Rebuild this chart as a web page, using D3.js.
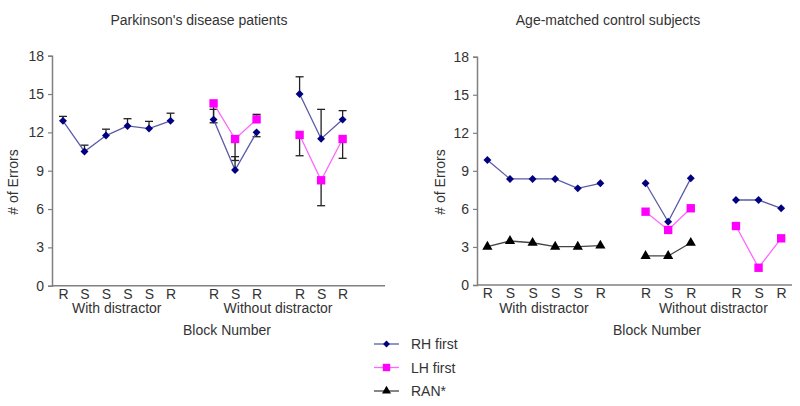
<!DOCTYPE html>
<html>
<head>
<meta charset="utf-8">
<script src="https://cdn.jsdelivr.net/npm/d3@7"></script>
<style>
  body { margin: 0; background: #fff; }
  text { font-family: "Liberation Sans", Arial, sans-serif; fill: #333; }
</style>
</head>
<body>
<div id="graph-container"></div>
<script>
const width = 800
const height = 406

// block slots on the x axis (gaps between the three sub-blocks)
const slots = [0, 1, 2, 3, 4, 5, 7, 8, 9, 11, 12, 13]
const blockLabels = ["R", "S", "S", "S", "S", "R", "R", "S", "R", "R", "S", "R"]
const blockGroup = [0, 0, 0, 0, 0, 0, 1, 1, 1, 2, 2, 2]
const yTicks = [0, 3, 6, 9, 12, 15, 18]

// Parkinson's disease patients
const pdRH = [12.9, 10.5, 11.75, 12.5, 12.3, 12.9, 13.0, 9.05, 12.0, 15.0, 11.5, 13.0]
const pdRHErr = [13.25, 11.0, 12.25, 13.07, 12.86, 13.5, 13.8, 10.1, 11.66, 16.35, 13.8, 13.7]
const pdLH = [null, null, null, null, null, null, 14.27, 11.48, 13.02, 11.8, 8.25, 11.48]
const pdLHErr = [null, null, null, null, null, null, 12.75, 9.8, 13.41, 10.17, 6.26, 9.97]

// Age-matched control subjects
const ctRH = [9.85, 8.36, 8.36, 8.36, 7.62, 8.02, 8.02, 4.99, 8.41, 6.7, 6.7, 6.05]
const ctLH = [null, null, null, null, null, null, 5.78, 4.34, 6.05, 4.65, 1.36, 3.68]
const ctRAN = [3.02, 3.47, 3.33, 3.02, 3.02, 3.1, 2.29, 2.29, 3.33, null, null, null]

const colors = {
  rhLine: "#5a5aa8", rhMark: "#000080",
  lhLine: "#ff66ff", lhMark: "#ff00ff",
  ranLine: "#444", ranMark: "#000"
}

const fontSize = "14px"

const svg = d3.create("svg")
    .attr("width", width)
    .attr("height", height)

d3.select("#graph-container").append(() => svg.node())

const panels = [
  {
    title: "Parkinson's disease patients", titleX: 199, blockX: 227,
    x: d3.scaleLinear().domain([-0.51, 14.97]).range([52, 385]),
    y: d3.scaleLinear().domain([0, 18]).range([285.7, 55.7]),
    labelX: 13,
    series: [
      {values: pdRH, err: pdRHErr, line: colors.rhLine, mark: colors.rhMark, shape: d3.symbolDiamond2, size: 40},
      {values: pdLH, err: pdLHErr, line: colors.lhLine, mark: colors.lhMark, shape: d3.symbolSquare, size: 70}
    ]
  },
  {
    title: "Age-matched control subjects", titleX: 608, blockX: 657,
    x: d3.scaleLinear().domain([-0.46, 13.48]).range([477, 792]),
    y: d3.scaleLinear().domain([0, 18]).range([285, 56.7]),
    labelX: 440,
    series: [
      {values: ctRH, line: colors.rhLine, mark: colors.rhMark, shape: d3.symbolDiamond2, size: 40},
      {values: ctLH, line: colors.lhLine, mark: colors.lhMark, shape: d3.symbolSquare, size: 70},
      {values: ctRAN, line: colors.ranLine, mark: colors.ranMark, shape: d3.symbolTriangle, size: 45}
    ]
  }
]

panels.forEach(p => {
  const [x0, x1] = p.x.range()
  const yBase = p.y(0)

  svg.append("text")
      .attr("x", p.titleX)
      .attr("y", 25)
      .attr("font-size", fontSize)
      .style("text-anchor", "middle")
      .text(p.title)

  // y axis
  const yAxis = svg.append("g")
      .attr("transform", `translate(${x0},0)`)
      .call(d3.axisLeft(p.y).tickValues(yTicks).tickSize(4).tickPadding(4))
  yAxis.select(".domain").attr("stroke", "#808080").attr("stroke-width", 1.5)
  yAxis.selectAll(".tick line").attr("stroke", "#808080").attr("stroke-width", 1.2)
  yAxis.selectAll(".tick text").attr("font-size", fontSize).attr("fill", "#333")
      .attr("font-family", "Liberation Sans, Arial, sans-serif")

  // x axis
  const xAxis = svg.append("g")
      .attr("transform", `translate(0,${yBase})`)
      .call(d3.axisBottom(p.x).tickValues(slots).tickSize(0).tickPadding(3)
        .tickFormat((d, i) => blockLabels[i]))
  xAxis.select(".domain").attr("stroke", "#808080").attr("stroke-width", 1.5)
      .attr("d", `M${x0},0H${x1}`)
  xAxis.selectAll(".tick text").attr("font-size", fontSize).attr("fill", "#333")
      .attr("font-family", "Liberation Sans, Arial, sans-serif")

  const mid0 = (p.x(slots[0]) + p.x(slots[5])) / 2
  const mid1 = (p.x(slots[6]) + p.x(slots[11])) / 2
  svg.append("text").attr("x", mid0).attr("y", 313).attr("font-size", fontSize)
      .style("text-anchor", "middle").text("With distractor")
  svg.append("text").attr("x", mid1).attr("y", 313).attr("font-size", fontSize)
      .style("text-anchor", "middle").text("Without distractor")

  svg.append("text")
      .attr("x", p.blockX)
      .attr("y", 335)
      .attr("font-size", fontSize)
      .style("text-anchor", "middle")
      .text("Block Number")

  svg.append("text")
      .attr("transform", `translate(${p.labelX + 5},182) rotate(-90)`)
      .attr("font-size", fontSize)
      .style("text-anchor", "middle")
      .text("# of Errors")

  const g = svg.append("g")

  // error bars
  p.series.filter(s => s.err).forEach(s => {
    s.err.forEach((e, i) => {
      if (e == null || s.values[i] == null) return
      const cx = p.x(slots[i])
      g.append("line")
          .attr("x1", cx).attr("x2", cx)
          .attr("y1", p.y(s.values[i])).attr("y2", p.y(e))
          .attr("stroke", "#222").attr("stroke-width", 1.3)
      g.append("line")
          .attr("x1", cx - 4).attr("x2", cx + 4)
          .attr("y1", p.y(e)).attr("y2", p.y(e))
          .attr("stroke", "#222").attr("stroke-width", 1.3)
    })
  })

  // lines per sub-block
  p.series.forEach(s => {
    d3.range(3).forEach(grp => {
      const pts = s.values.map((v, i) => ({v, i})).filter(d => blockGroup[d.i] === grp && d.v != null)
      if (pts.length < 2) return
      g.append("path")
          .datum(pts)
          .attr("fill", "none")
          .attr("stroke", s.line)
          .attr("stroke-width", 1.3)
          .attr("d", d3.line().x(d => p.x(slots[d.i])).y(d => p.y(d.v)))
    })
  })

  // markers
  p.series.forEach(s => {
    g.selectAll(null)
      .data(s.values.map((v, i) => ({v, i})).filter(d => d.v != null))
      .join("path")
        .attr("transform", d => `translate(${p.x(slots[d.i])},${p.y(d.v)})`)
        .attr("d", d3.symbol().type(s.shape).size(s.size))
        .attr("fill", s.mark)
  })
})

// legend
const legendItems = [
  {label: "RH first", line: colors.rhLine, mark: colors.rhMark, shape: d3.symbolDiamond2, size: 30},
  {label: "LH first", line: colors.lhLine, mark: colors.lhMark, shape: d3.symbolSquare, size: 55},
  {label: "RAN*", line: colors.ranLine, mark: colors.ranMark, shape: d3.symbolTriangle, size: 35}
]

const legend = svg.append("g")
legendItems.forEach((d, i) => {
  const ly = 344 + i * 23.5
  legend.append("line")
      .attr("x1", 374).attr("x2", 399)
      .attr("y1", ly).attr("y2", ly)
      .attr("stroke", d.line).attr("stroke-width", 1.3)
  legend.append("path")
      .attr("transform", `translate(386.5,${ly})`)
      .attr("d", d3.symbol().type(d.shape).size(d.size))
      .attr("fill", d.mark)
  legend.append("text")
      .attr("x", 411)
      .attr("y", ly + 5)
      .attr("font-size", fontSize)
      .text(d.label)
})
</script>
</body>
</html>
